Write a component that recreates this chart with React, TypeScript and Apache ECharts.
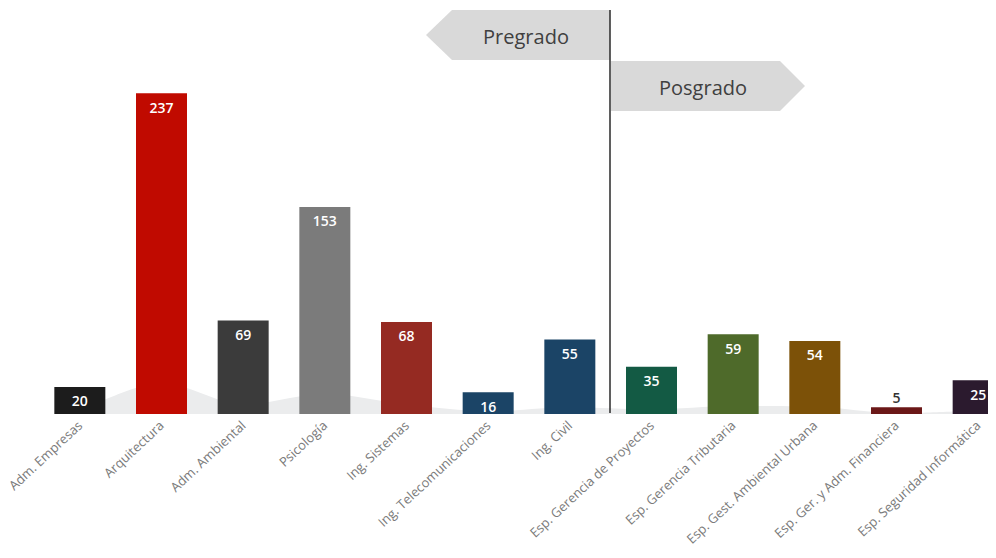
import React, { useEffect, useRef } from "react";
import * as echarts from "echarts";

const categories = [
  "Adm. Empresas",
  "Arquitectura",
  "Adm. Ambiental",
  "Psicología",
  "Ing. Sistemas",
  "Ing. Telecomunicaciones",
  "Ing. Civil",
  "Esp. Gerencia de Proyectos",
  "Esp. Gerencia Tributaria",
  "Esp. Gest. Ambiental Urbana",
  "Esp. Ger. y Adm. Financiera",
  "Esp. Seguridad Informática",
];
const values = [20, 237, 69, 153, 68, 16, 55, 35, 59, 54, 5, 25];
const barColors = [
  "#1c1c1c",
  "#c00a00",
  "#3b3b3b",
  "#7b7b7b",
  "#952a22",
  "#1b4466",
  "#1b4466",
  "#135a44",
  "#4e6a2a",
  "#7c5108",
  "#6b1818",
  "#2b1a2e",
];
// faint grey backdrop shape behind the bars
const backdrop = [2, 23, 7, 15, 7, 2, 5, 3.5, 6, 5.5, 0.5, 2.5];
const sectionLabels = ["Pregrado", "Posgrado"];

export default function App() {
  const ref = useRef<HTMLDivElement>(null);
  useEffect(() => {
    if (!ref.current) return;
    const chart = echarts.init(ref.current, null, { renderer: "svg" });
    const font = "'Open Sans', 'Noto Sans', sans-serif";
    chart.setOption({
      animation: false,
      backgroundColor: "#ffffff",
      grid: { left: 39, width: 980, top: 8, bottom: 144, containLabel: false },
      xAxis: {
        type: "category",
        data: categories,
        axisLine: { show: false },
        axisTick: { show: false },
        axisLabel: {
          interval: 0,
          rotate: 43,
          color: "#7a7a7a",
          fontSize: 13,
          fontFamily: font,
          margin: 9,
        },
      },
      yAxis: {
        type: "value",
        min: 0,
        max: 300,
        show: false,
        splitLine: { show: false },
      },
      series: [
        {
          type: "line",
          data: backdrop,
          symbol: "none",
          smooth: 0.3,
          lineStyle: { width: 0 },
          areaStyle: { color: "#ebeced", opacity: 1 },
          z: 1,
          silent: true,
        },
        {
          type: "bar",
          barWidth: 51,
          z: 2,
          data: values.map((v, i) => ({
            value: v,
            itemStyle: { color: barColors[i] },
            label:
              v < 10
                ? { position: "top", color: "#333333", distance: 3 }
                : { position: "insideTop", color: "#ffffff", distance: 7 },
          })),
          label: {
            show: true,
            fontSize: 14,
            fontWeight: 600,
            fontFamily: font,
          },
        },
      ],
      graphic: [
        {
          type: "polygon",
          shape: {
            points: [
              [426, 35],
              [452, 10],
              [610, 10],
              [610, 60],
              [452, 60],
            ],
          },
          style: { fill: "#d9d9d9" },
          z: 10,
        },
        {
          type: "text",
          x: 526,
          y: 36,
          style: {
            text: sectionLabels[0],
            fill: "#404040",
            font: "500 20px 'Open Sans', 'Noto Sans', sans-serif",
            textAlign: "center",
            textVerticalAlign: "middle",
          },
          z: 11,
        },
        {
          type: "polygon",
          shape: {
            points: [
              [611, 61],
              [780, 61],
              [805, 86],
              [780, 111],
              [611, 111],
            ],
          },
          style: { fill: "#d9d9d9" },
          z: 10,
        },
        {
          type: "text",
          x: 703,
          y: 87,
          style: {
            text: sectionLabels[1],
            fill: "#404040",
            font: "500 20px 'Open Sans', 'Noto Sans', sans-serif",
            textAlign: "center",
            textVerticalAlign: "middle",
          },
          z: 11,
        },
        {
          type: "line",
          shape: { x1: 610, y1: 10, x2: 610, y2: 413 },
          style: { stroke: "#2a2a2a", lineWidth: 1.5 },
          z: 12,
        },
      ],
    });
    return () => chart.dispose();
  }, []);
  return (
    <div style={{ width: 996, height: 558, margin: -8, overflow: "hidden", position: "relative" }}>
      <div ref={ref} style={{ width: 1030, height: 558 }} />
    </div>
  );
}
